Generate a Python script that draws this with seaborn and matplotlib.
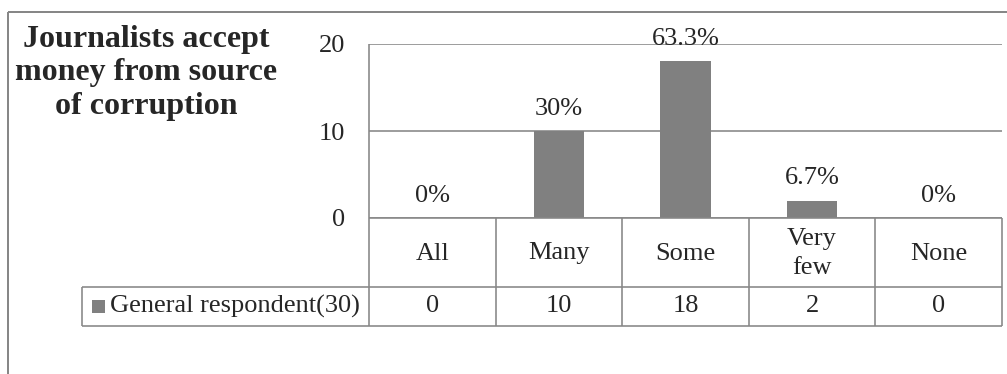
import matplotlib
matplotlib.use("Agg")
import matplotlib.pyplot as plt
import pandas as pd
import seaborn as sns
from matplotlib.lines import Line2D
from matplotlib.patches import Rectangle

# ---- data ----
categories = ["All", "Many", "Some", "Very\nfew", "None"]
counts = [0, 10, 18, 2, 0]
pct_labels = ["0%", "30%", "63.3%", "6.7%", "0%"]
series_name = "General respondent(30)"
chart_title = "Journalists accept\nmoney from source\nof corruption"
y_ticks = [0, 10, 20]

# ---- canvas ----
W, H, DPI = 1007, 374, 100
BAR = "#808080"
LINE = "#878787"
FS = 19

sns.set_style("white")
plt.rcParams["font.family"] = ["Liberation Serif", "DejaVu Serif"]

fig = plt.figure(figsize=(W / DPI, H / DPI), dpi=DPI)


def fx(px):
    return px / W


def fy(py):
    return 1 - py / H


def hline(x0, x1, y, lw=1.6):
    fig.add_artist(Line2D([fx(x0), fx(x1)], [fy(y), fy(y)], color=LINE,
                          lw=lw * 72 / DPI, transform=fig.transFigure,
                          solid_capstyle="butt"))


def vline(x, y0, y1, lw=1.6):
    fig.add_artist(Line2D([fx(x), fx(x)], [fy(y0), fy(y1)], color=LINE,
                          lw=lw * 72 / DPI, transform=fig.transFigure,
                          solid_capstyle="butt"))


# plot area (pixel box)
L, R, T, B = 369, 1002, 44, 218
ROW1, ROW2 = 287, 326
LEG_X = 82

ax = fig.add_axes([fx(L), fy(B), fx(R - L), (B - T) / H])
df = pd.DataFrame({"category": categories, "count": counts})
sns.barplot(data=df, x="category", y="count", color=BAR, saturation=1,
            width=0.4, linewidth=0, ax=ax, zorder=3)
ax.set_xlim(-0.5, len(categories) - 0.5)
ax.set_ylim(0, 20)
ax.set_yticks(y_ticks)
ax.set_xticks([])
ax.set_xlabel("")
ax.set_ylabel("")
ax.yaxis.grid(True, color=LINE, lw=1.6 * 72 / DPI)
ax.set_axisbelow(True)
for s in ax.spines.values():
    s.set_visible(False)
ax.tick_params(axis="y", length=0, pad=17, labelsize=FS)

# percentage labels above the bars
for i, (v, lbl) in enumerate(zip(counts, pct_labels)):
    ax.annotate(lbl, xy=(i, v), xytext=(0, 16), textcoords="offset points",
                ha="center", va="center", fontsize=FS, zorder=4)

# ---- data table under the axis ----
fig.canvas.draw()
edges = [ax.transData.transform((i - 0.5, 0))[0] for i in range(len(categories) + 1)]
centers = [ax.transData.transform((i, 0))[0] for i in range(len(categories))]

vline(L, T, ROW2)                     # value axis line down through table
hline(L, R, B)                        # category axis line / table top
hline(LEG_X, R, ROW1)
hline(LEG_X, R, ROW2)
vline(LEG_X, ROW1, ROW2)
for e in edges[1:]:
    vline(e, B, ROW2)

for c, cat, n in zip(centers, categories, counts):
    fig.text(fx(c), fy((B + ROW1) / 2 + 1), cat, ha="center", va="center",
             fontsize=FS, linespacing=1.4, transform=fig.transFigure)
    fig.text(fx(c), fy((ROW1 + ROW2) / 2), str(n), ha="center", va="center",
             fontsize=FS, transform=fig.transFigure)

# legend key inside the table
fig.add_artist(Rectangle((fx(92), fy(313)), fx(13), 13 / H, color=BAR,
                         lw=0, transform=fig.transFigure))
fig.text(fx(110), fy((ROW1 + ROW2) / 2), series_name, ha="left", va="center",
         fontsize=FS, transform=fig.transFigure)

# chart title
fig.text(fx(146), fy(25), chart_title, ha="center", va="top",
         multialignment="center", fontsize=23, fontweight="bold",
         linespacing=1.2, transform=fig.transFigure)

# outer chart frame
hline(8, W, 12, lw=2)
vline(8, 12, H, lw=2)

fig.savefig("out.png", dpi=DPI)
